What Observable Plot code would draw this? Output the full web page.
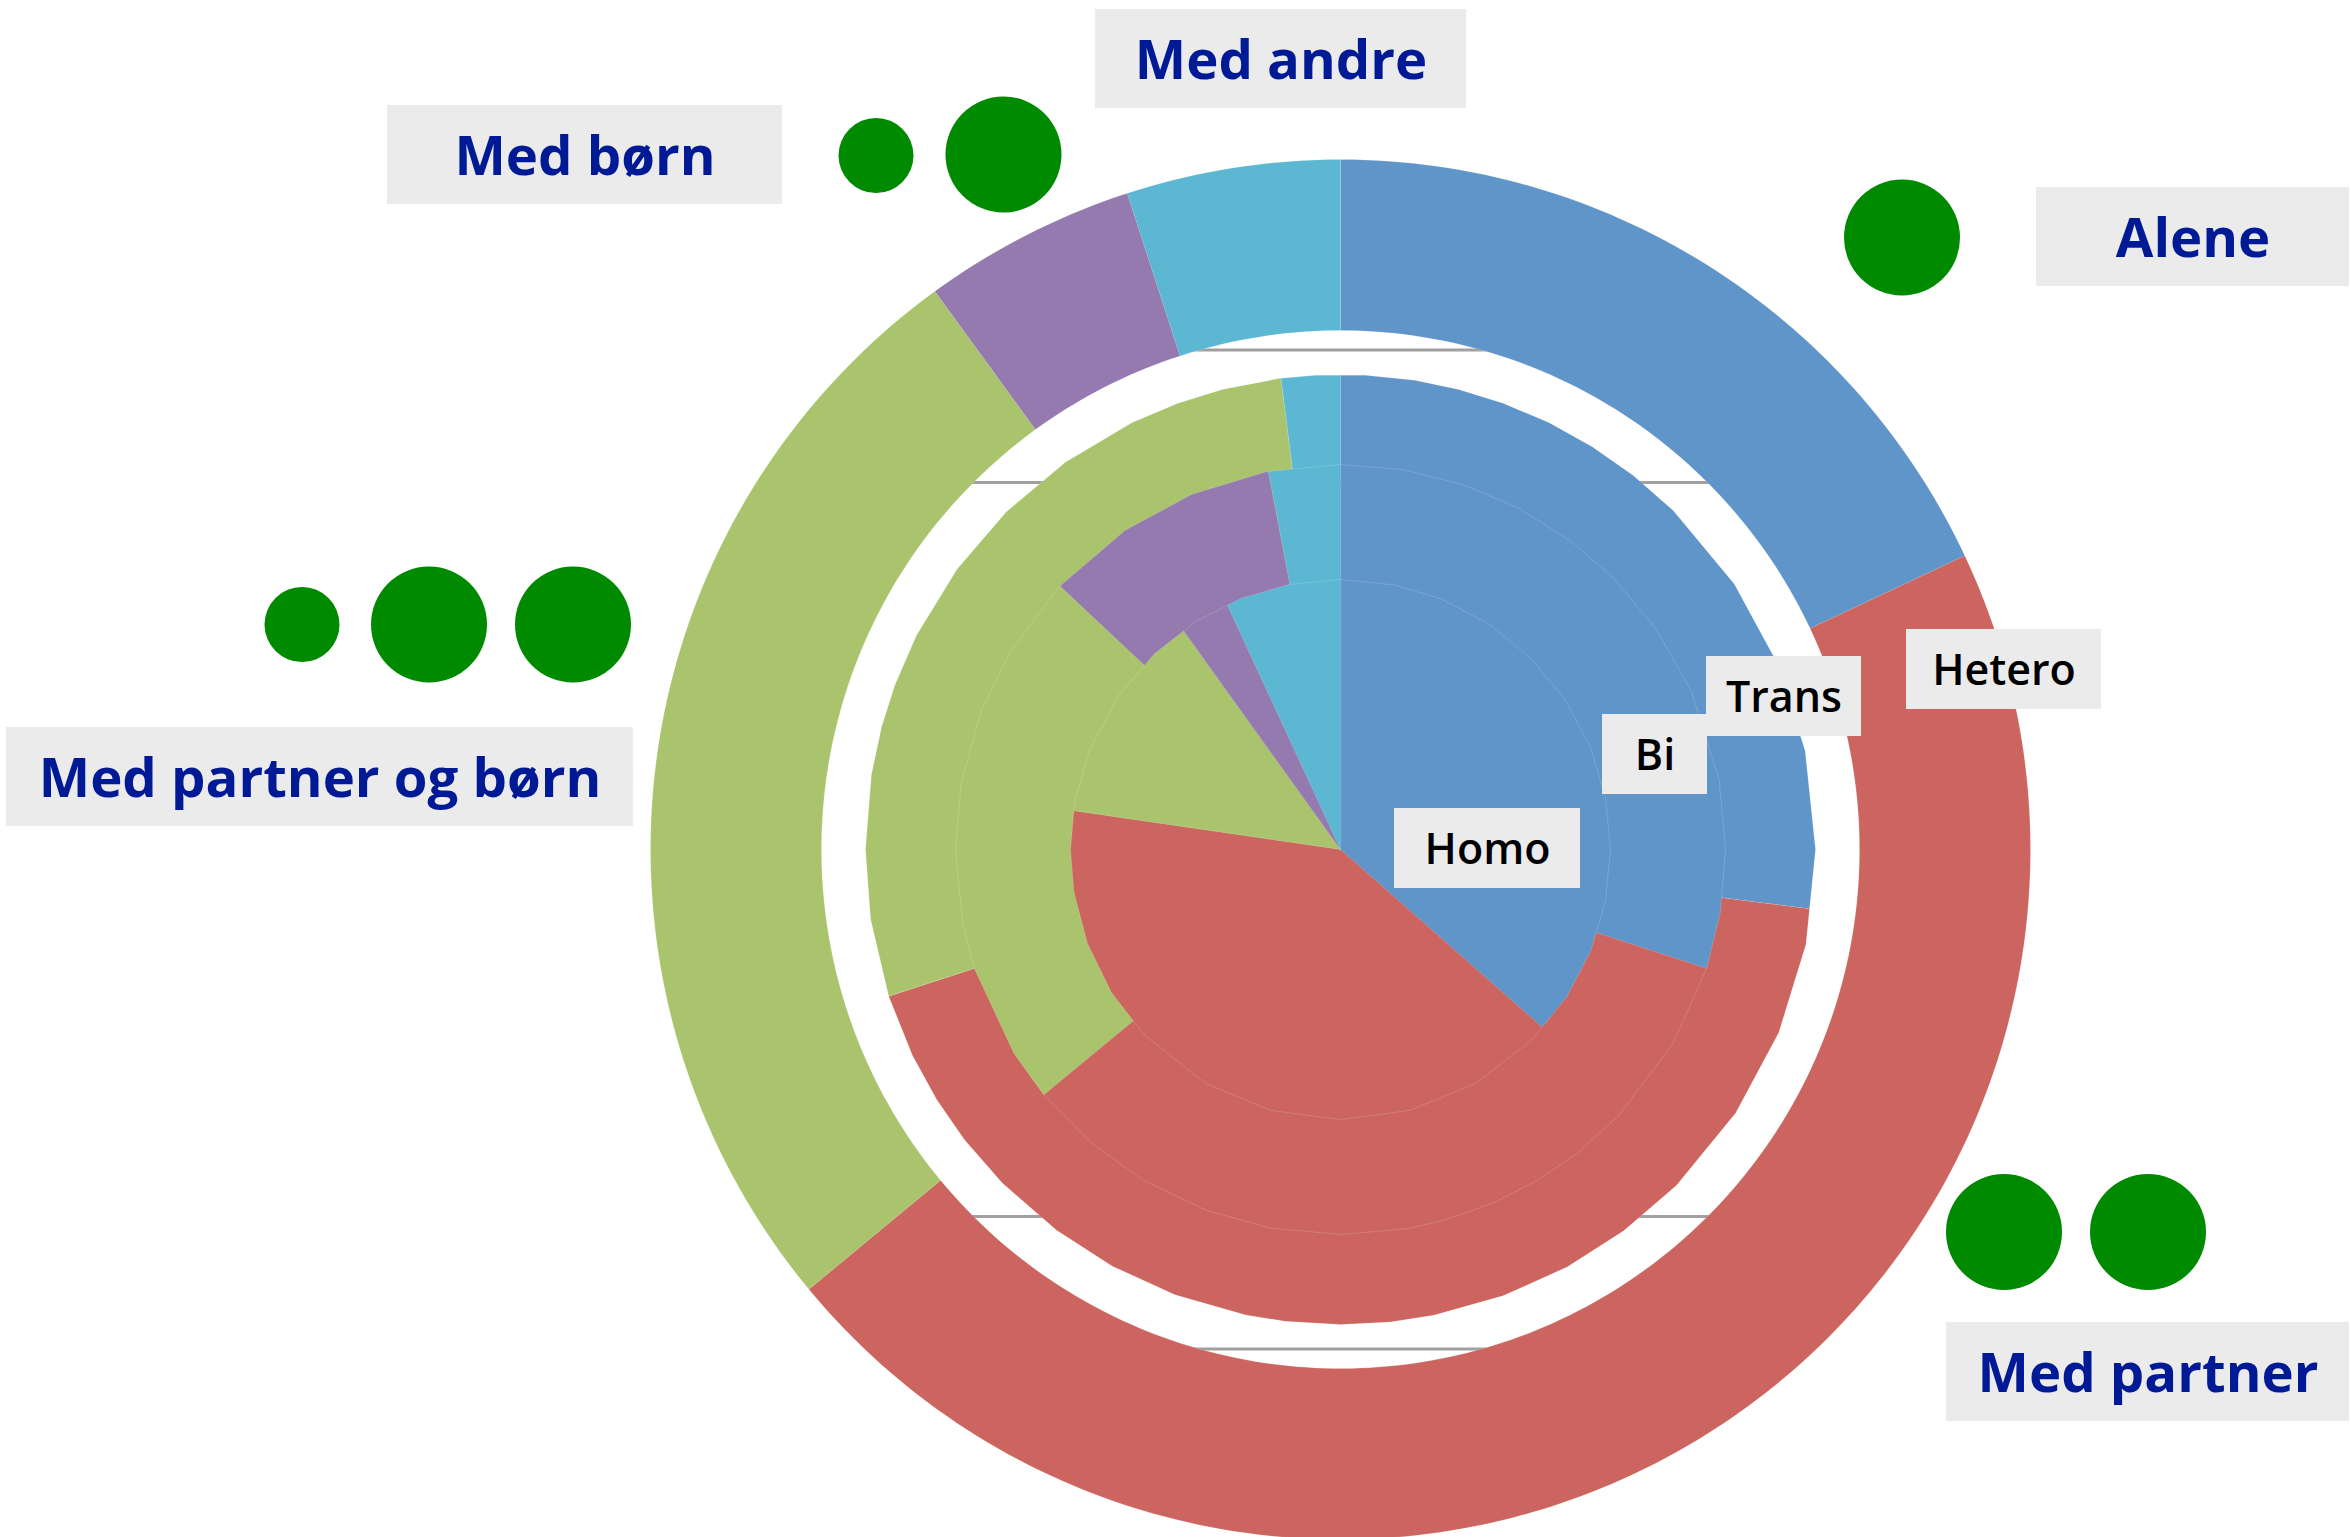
<!DOCTYPE html>
<html>
<head>
<meta charset="utf-8">
<style>html,body{margin:0;padding:0;background:#fff;overflow:hidden}svg{display:block}</style>
<script src="https://cdn.jsdelivr.net/npm/d3@7"></script>
<script src="https://cdn.jsdelivr.net/npm/@observablehq/plot@0.6"></script>
</head>
<body>
<div id="chart"></div>
<script>
// Shares (%) per ring, clockwise from 12 o'clock
const categories = ["Alene", "Med partner", "Med partner og børn", "Med børn", "Med andre"];
const colors = ["#6095C9", "#CC655F", "#AAC46E", "#957AB0", "#5CB7D2"];
const hetero = [18, 46, 26, 5, 5];
const trans = [27, 43, 28, 0, 2];
const bi = [30, 34, 23, 10, 3];
const homo = [36.5, 40.8, 12.8, 3, 6.9];

// Ring radii
const heteroOuter = 690, heteroInner = 519, transOuter = 475, biOuter = 385, homoOuter = 270;

// Corner angles (degrees) of the faceted ring outlines
const transCorners = [3,9,14.4,20,26,32,38,44.5,56,67,78,90,101.5,112.7,123.7,135,143.4,151.5,160,168.7,174,180,186.7,191.5,200.4,208.7,216.7,225.4,232.3,238.2,244.3,252,261.6,270,279,285,290.3,296.8,306.2,315.3,324.6,334,340,345.6,352.7,357];
const biCorners = [0,9.3,18.5,27.5,37,45.4,55,65.7,79.7,90,99.3,108,120.3,134,142.2,149.3,156.5,164.2,170,180,190.6,200.4,210.8,220.5,230.5,238,252,259,270,280,291,300.6,313,326,337.3,349];
const homoCorners = [0,11.5,22,33.5,45,56.5,68,79,90,101,112,123,135,150,165,180,195,210,226.7,238,249.6,261,270,280,291.7,305,316.6,327.6,338.4,349];

// Gridlines, distance from the centre
const gridOffsets = [499.5, 367];

const labels = [
  {text: "Med andre", x1: 1095, x2: 1466, y1: 9, y2: 108, big: true},
  {text: "Med børn", x1: 387, x2: 782, y1: 105, y2: 204, big: true},
  {text: "Alene", x1: 2036, x2: 2349, y1: 187, y2: 286, big: true},
  {text: "Med partner og børn", x1: 6, x2: 633, y1: 727, y2: 826, big: true},
  {text: "Med partner", x1: 1946, x2: 2349, y1: 1322, y2: 1421, big: true},
  {text: "Hetero", x1: 1906, x2: 2101, y1: 629, y2: 709, big: false},
  {text: "Bi", x1: 1602, x2: 1707, y1: 714, y2: 794, big: false},
  {text: "Trans", x1: 1706, x2: 1861, y1: 656, y2: 736, big: false},
  {text: "Homo", x1: 1394, x2: 1580, y1: 808, y2: 888, big: false}
];
const people = [
  {x: 875.5, y: 155, adult: false}, {x: 1003, y: 154, adult: true},
  {x: 1901.5, y: 237, adult: true},
  {x: 301.5, y: 624, adult: false}, {x: 428.5, y: 624, adult: true}, {x: 572.5, y: 624, adult: true},
  {x: 2003.5, y: 1231.5, adult: true}, {x: 2147.5, y: 1231.5, adult: true}
];

const cx = 1340, cy = 849;
const rad = d => d * Math.PI / 180;
const polar = (r, deg) => ({x: cx + r * Math.sin(rad(deg)), y: cy - r * Math.cos(rad(deg))});

// Radius at an angle on the polygon with the given corners
function outlineRadius(R, corners, deg) {
  const c = [...corners, corners[0] + 360];
  let d = deg; if (d < c[0]) d += 360;
  const i = Math.min(Math.max(0, d3.bisectRight(c, d) - 1), c.length - 2);
  const a = c[i], b = c[i + 1];
  const mid = (a + b) / 2;
  return R * Math.cos(rad((b - a) / 2)) / Math.cos(rad(d - mid));
}
// Faceted wedge from the centre out to the outline
function wedges(shares, R, corners) {
  const out = []; let start = 0;
  shares.forEach((s, k) => {
    const end = start + s * 3.6;
    if (s > 0) {
      const id = categories[k];
      out.push({id, cat: id, ...polar(0, 0)});
      const angles = [start];
      corners.forEach(c => { if (c > start && c < end) angles.push(c); });
      angles.push(end);
      angles.forEach(a => out.push({id, cat: id, ...polar(outlineRadius(R, corners, a % 360), a)}));
    }
    start = end;
  });
  return out;
}
// Smooth annular sectors for the outer ring
function annulus(shares, r0, r1) {
  const out = []; let start = 0;
  shares.forEach((s, k) => {
    const end = start + s * 3.6, id = categories[k];
    const angles = [...d3.range(start, end, 1), end];
    angles.forEach(a => out.push({id, cat: id, ...polar(r1, a)}));
    angles.slice().reverse().forEach(a => out.push({id, cat: id, ...polar(r0, a)}));
    start = end;
  });
  return out;
}

const gridRows = gridOffsets.flatMap(o => {
  const half = Math.sqrt(heteroInner ** 2 - o ** 2) + 12;
  return [cy - o, cy + o].map(y => ({y, x1: cx - half, x2: cx + half}));
});

const ringOptions = {x: "x", y: "y", z: "id", fill: "cat", stroke: "white", strokeOpacity: 0.2, strokeWidth: 0.8, curve: "linear"};
const labelText = (big) => Plot.text(labels.filter(d => d.big === big), {
  x: d => (d.x1 + d.x2) / 2, y: d => (d.y1 + d.y2) / 2, text: "text",
  fontFamily: "Open Sans", fontWeight: big ? 700 : 600, fontSize: big ? 54.5 : 43,
  dy: big ? 3 : 2,
  fill: big ? "#001A96" : "#000000", lineAnchor: "middle", textAnchor: "middle"
});

const chart = Plot.plot({
  width: 2351, height: 1537, margin: 0,
  style: {background: "#ffffff"},
  x: {domain: [0, 2351], range: [0, 2351], axis: null},
  y: {domain: [0, 1537], range: [0, 1537], axis: null},
  color: {domain: categories, range: colors},
  marks: [
    Plot.ruleY(gridRows, {y: "y", x1: "x1", x2: "x2", stroke: "#A0A0A0", strokeWidth: 3}),
    Plot.line(annulus(hetero, heteroInner, heteroOuter), ringOptions),
    Plot.line(wedges(trans, transOuter, transCorners), ringOptions),
    Plot.line(wedges(bi, biOuter, biCorners), ringOptions),
    Plot.line(wedges(homo, homoOuter, homoCorners), ringOptions),
    Plot.dot(people.filter(d => d.adult), {x: "x", y: "y", r: 58, fill: "#008A00"}),
    Plot.dot(people.filter(d => !d.adult), {x: "x", y: "y", r: 37.5, fill: "#008A00"}),
    Plot.rect(labels, {x1: "x1", x2: "x2", y1: "y1", y2: "y2", fill: "#EBEBEB"}),
    labelText(true),
    labelText(false)
  ]
});
document.getElementById("chart").appendChild(chart);
</script>
</body>
</html>
